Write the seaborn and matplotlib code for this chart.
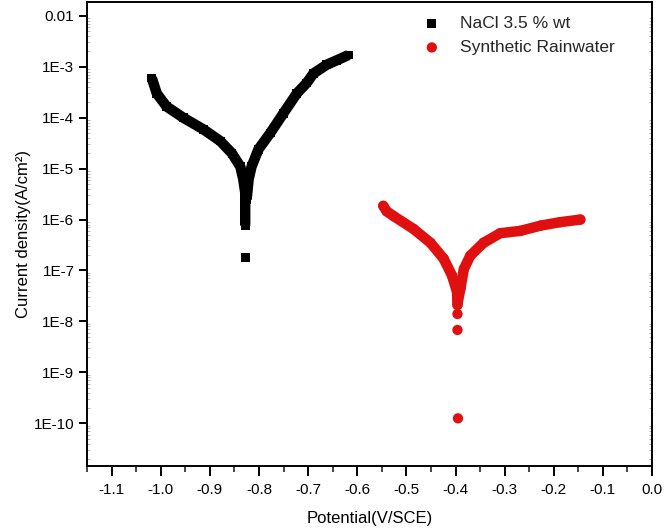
import numpy as np
import pandas as pd
import matplotlib
matplotlib.use("Agg")
import matplotlib.pyplot as plt
import seaborn as sns
from matplotlib.ticker import FixedLocator, MultipleLocator, LogLocator, NullFormatter

# ---------------- data ----------------
nacl_cath_E = [-1.018, -1.008, -0.988, -0.954, -0.913, -0.879, -0.855, -0.838, -0.832, -0.828, -0.828, -0.828]
nacl_cath_i = [6.0e-4, 3.0e-4, 1.66e-4, 1.0e-4, 5.9e-5, 3.5e-5, 2.0e-5, 1.1e-5, 6.2e-6, 3.4e-6, 1.9e-6, 7.6e-7]
nacl_anod_E = [-0.825, -0.821, -0.815, -0.801, -0.777, -0.750, -0.723, -0.703, -0.689, -0.662, -0.641, -0.618]
nacl_anod_i = [2.5e-6, 6.2e-6, 1.1e-5, 2.4e-5, 5.0e-5, 1.23e-4, 3.0e-4, 4.8e-4, 7.4e-4, 1.1e-3, 1.35e-3, 1.7e-3]
nacl_tail_E = [-0.828]
nacl_tail_i = [1.8e-7]

rain_cath_E = [-0.547, -0.540, -0.526, -0.485, -0.451, -0.424, -0.407, -0.397, -0.396]
rain_cath_i = [1.86e-6, 1.45e-6, 1.17e-6, 6.5e-7, 3.5e-7, 1.7e-7, 7.9e-8, 3.8e-8, 2.1e-8]
rain_anod_E = [-0.395, -0.390, -0.383, -0.370, -0.343, -0.309, -0.268, -0.227, -0.187, -0.146]
rain_anod_i = [2.5e-8, 4.4e-8, 1.07e-7, 1.95e-7, 3.5e-7, 5.4e-7, 6.0e-7, 7.6e-7, 8.9e-7, 1.0e-6]
rain_tail_E = [-0.396, -0.396, -0.395]
rain_tail_i = [1.4e-8, 6.8e-9, 1.25e-10]

series_labels = ["NaCl 3.5 % wt", "Synthetic Rainwater"]
x_ticks = [-1.1, -1.0, -0.9, -0.8, -0.7, -0.6, -0.5, -0.4, -0.3, -0.2, -0.1, 0.0]
y_ticks = [1e-2, 1e-3, 1e-4, 1e-5, 1e-6, 1e-7, 1e-8, 1e-9, 1e-10]
y_tick_labels = ["0.01", "1E-3", "1E-4", "1E-5", "1E-6", "1E-7", "1E-8", "1E-9", "1E-10"]

# ---------------- styling ----------------
sns.set_theme(style="ticks")
plt.rcParams['font.family'] = ['Liberation Sans', 'DejaVu Sans']

BLACK = "#000000"
RED = "#e01010"

fig = plt.figure(figsize=(6.64, 5.29), dpi=100)
ax = fig.add_axes([0.131, 0.119, 0.851, 0.877])

def branch(E, i, name):
    return pd.DataFrame({"E": E, "i": i, "series": name})

# continuous thick branches
for E, i, col in [(nacl_cath_E, nacl_cath_i, BLACK), (nacl_anod_E, nacl_anod_i, BLACK),
                  (rain_cath_E, rain_cath_i, RED), (rain_anod_E, rain_anod_i, RED)]:
    sns.lineplot(data=branch(E, i, "x"), x="E", y="i", sort=False, estimator=None,
                 color=col, linewidth=7.5, ax=ax, legend=False,
                 solid_capstyle="butt" if col == BLACK else "round", solid_joinstyle="round")

# scatter markers (points + isolated tail points), used for the legend
nacl_pts = pd.concat([branch(nacl_cath_E, nacl_cath_i, series_labels[0]),
                      branch(nacl_anod_E, nacl_anod_i, series_labels[0]),
                      branch(nacl_tail_E, nacl_tail_i, series_labels[0])])
rain_pts = pd.concat([branch(rain_cath_E, rain_cath_i, series_labels[1]),
                      branch(rain_anod_E, rain_anod_i, series_labels[1]),
                      branch(rain_tail_E, rain_tail_i, series_labels[1])])
sns.scatterplot(data=nacl_pts, x="E", y="i", marker="s", color=BLACK, s=40,
                edgecolor="none", ax=ax, label=series_labels[0])
sns.scatterplot(data=rain_pts, x="E", y="i", marker="o", color=RED, s=55,
                edgecolor="none", ax=ax, label=series_labels[1])

ax.set_yscale("log")
ax.set_xlim(-1.15, 0.0)
ax.set_ylim(10**-10.84, 10**-1.73)

ax.xaxis.set_major_locator(FixedLocator(x_ticks))
ax.set_xticklabels([f"{v:.1f}" for v in x_ticks])
ax.xaxis.set_minor_locator(MultipleLocator(0.05))
ax.yaxis.set_major_locator(FixedLocator(y_ticks))
ax.set_yticklabels(y_tick_labels)
ax.yaxis.set_minor_locator(LogLocator(base=10, subs=np.arange(2, 10)))
ax.yaxis.set_minor_formatter(NullFormatter())

for s in ax.spines.values():
    s.set_linewidth(1.4)
    s.set_color("black")
    s.set_visible(True)

ax.tick_params(axis="x", which="major", direction="out", length=7, width=1.4, labelsize=11, pad=5, colors="black")
ax.tick_params(axis="x", which="minor", direction="out", length=4, width=1.2)
ax.tick_params(axis="y", which="major", direction="out", length=6, width=1.4, labelsize=11, pad=3, colors="black")
ax.tick_params(axis="y", which="minor", direction="in", length=2, width=0.5, color="#999999",
               right=True, left=True)

ax.set_xlabel("Potential(V/SCE)", fontsize=12, labelpad=10, color="black")
ax.set_ylabel("Current density(A/cm²)", fontsize=12, labelpad=2, color="black")

leg = ax.legend(loc="upper left", bbox_to_anchor=(0.555, 1.0), frameon=False,
                fontsize=12.5, handletextpad=0.6, borderaxespad=0.4, labelspacing=0.5,
                markerscale=1.0)

fig.savefig("out.png", dpi=100)
